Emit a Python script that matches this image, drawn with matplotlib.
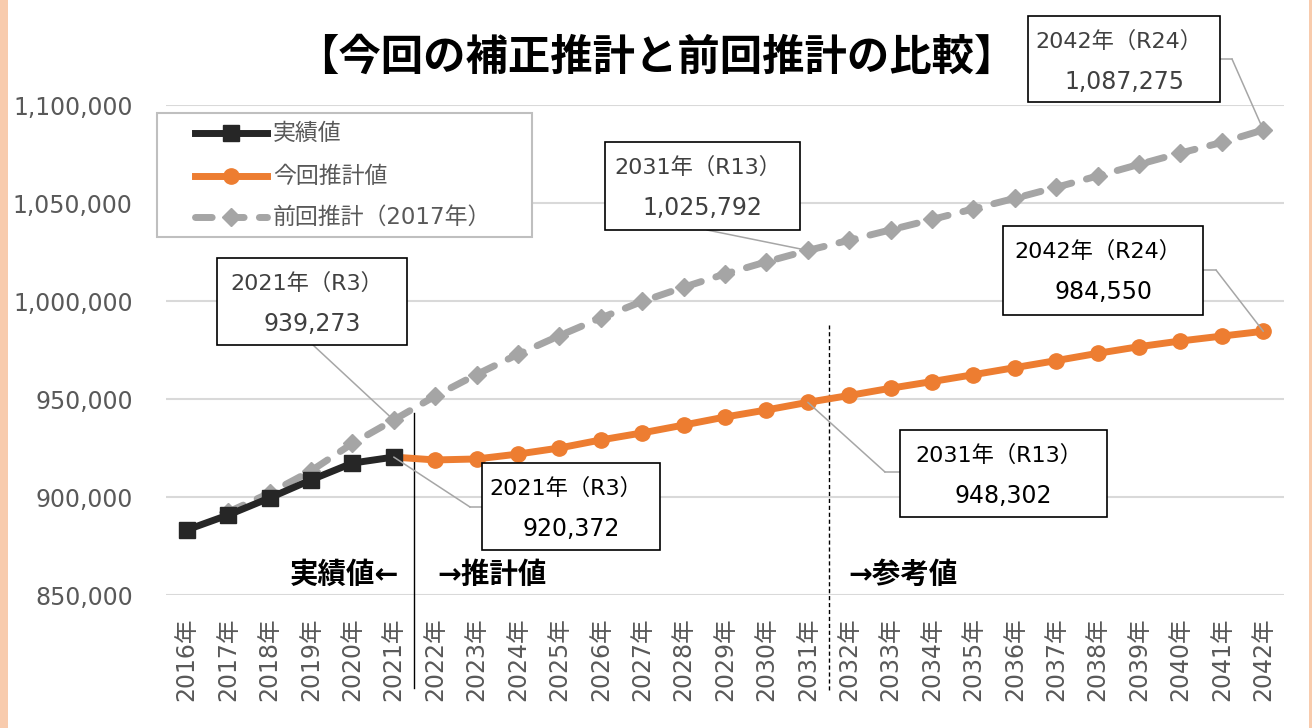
import matplotlib
matplotlib.use("Agg")
import matplotlib.pyplot as plt
from matplotlib.patches import Rectangle
from matplotlib.lines import Line2D
from matplotlib.transforms import blended_transform_factory

plt.rcParams['font.family'] = ['DejaVu Sans', 'Noto Sans CJK JP']

# ---- data ----
years = list(range(2016, 2043))
year_labels = [f"{y}年" for y in years]

actual_years = [2016, 2017, 2018, 2019, 2020, 2021]
actual = [883200, 890800, 899500, 908700, 917300, 920372]

current_years = list(range(2021, 2043))
current = [920372, 918900, 919400, 921900, 925000, 929100, 932700, 936700,
           940800, 944400, 948302, 951800, 955500, 958900, 962400, 966000,
           969600, 973300, 976700, 979600, 982100, 984550]

prev_years = list(range(2017, 2043))
previous = [892300, 902000, 913300, 927300, 939273, 951500, 962500, 972800,
            982300, 991300, 999800, 1007000, 1013800, 1020000, 1025792,
            1031000, 1036300, 1041600, 1047000, 1052400, 1058000, 1063800,
            1069700, 1075500, 1080900, 1087275]

series_names = ["実績値", "今回推計値", "前回推計（2017年）"]

W, H = 1312, 728
fig = plt.figure(figsize=(W / 100, H / 100), dpi=100)


def fxy(px, py):
    return px / W, 1 - py / H


ax = fig.add_axes([166 / W, 1 - 595 / H, (1284 - 166) / W, 490 / H])

pos = {y: i for i, y in enumerate(years)}

styles = [
    dict(color='#262626', lw=5, marker='s', ms=11),
    dict(color='#ed7d31', lw=5, marker='o', ms=11),
    dict(color='#a5a5a5', lw=5, marker='D', ms=9, dashes=(2.4, 2.2),
         dash_capstyle='round'),
]

ax.plot([pos[y] for y in actual_years], actual, zorder=4, **styles[0])
ax.plot([pos[y] for y in current_years], current, zorder=3, **styles[1])
ax.plot([pos[y] for y in prev_years], previous, zorder=2, **styles[2])

ax.set_xlim(-0.5, len(years) - 0.5)
ax.set_ylim(850000, 1100000)
ax.set_yticks(range(850000, 1100001, 50000))
ax.yaxis.set_major_formatter(matplotlib.ticker.FuncFormatter(lambda v, p: f"{int(v):,}"))
ax.set_xticks(range(len(years)))
ax.set_xticklabels(year_labels, rotation=90)
ax.tick_params(axis='y', length=0, pad=24, labelsize=17, labelcolor='#595959')
ax.tick_params(axis='x', length=0, pad=16, labelsize=17, labelcolor='#595959')
ax.grid(axis='y', color='#d9d9d9', lw=1.5)
ax.set_axisbelow(True)
for s in ax.spines.values():
    s.set_visible(False)

# divider lines
ax.axvline(5.5, ymin=-0.19, ymax=0.371, color='black', lw=1, clip_on=False)
ax.axvline(15.5, ymin=-0.194, ymax=0.551, color='black', lw=1,
           dashes=(3, 2), clip_on=False)

tr = blended_transform_factory(ax.transData, ax.transAxes)
ax.text(5.12, 0.041, "実績値←", transform=tr, ha='right', va='center',
        fontsize=20.5, weight='bold', color='black')
ax.text(6.06, 0.041, "→推計値", transform=tr, ha='left', va='center',
        fontsize=20.5, weight='bold', color='black')
ax.text(15.98, 0.041, "→参考値", transform=tr, ha='left', va='center',
        fontsize=20.5, weight='bold', color='black')

# title
fig.text(*fxy(656, 58), "【今回の補正推計と前回推計の比較】", ha='center',
         va='center', fontsize=30.5, weight='bold', color='black')

# legend box
lx, ly = fxy(157, 237)
fig.add_artist(Rectangle((lx, ly), 375 / W, 124 / H, transform=fig.transFigure,
                         facecolor='white', edgecolor='#bfbfbf', lw=1.5, zorder=2))
for name, st, row_y in zip(series_names, styles, [133, 176, 217]):
    hx0, hy = fxy(195, row_y)
    hx1, _ = fxy(267, row_y)
    line_st = {k: v for k, v in st.items() if k not in ('marker', 'ms')}
    fig.add_artist(Line2D([hx0, hx1], [hy, hy], transform=fig.transFigure,
                          zorder=3, **line_st))
    fig.add_artist(Line2D([(hx0 + hx1) / 2], [hy], transform=fig.transFigure,
                          color=st['color'], marker=st['marker'], ms=st['ms'],
                          lw=0, zorder=4))
    fig.text(*fxy(273, row_y), name, ha='left', va='center', fontsize=16.5,
             color='#595959', zorder=4)

# annotation boxes: (year, value, box pixels, elbow pixels, text color)
notes = [
    (2042, previous[-1], (1028, 16, 1220, 102), [(1220, 59), (1232, 59)], '#404040'),
    (2031, previous[prev_years.index(2031)], (605, 142, 800, 230), [(707, 230)], '#404040'),
    (2021, previous[prev_years.index(2021)], (217, 258, 407, 345), [(313, 345)], '#404040'),
    (2042, current[-1], (1003, 226, 1203, 315), [(1203, 270), (1216, 270)], 'black'),
    (2031, current[current_years.index(2031)], (900, 430, 1107, 517), [(900, 472), (885, 472)], 'black'),
    (2021, current[0], (482, 463, 660, 550), [(482, 507), (470, 507)], 'black'),
]
reiwa = {2021: "R3", 2031: "R13", 2042: "R24"}

for yr, val, (x0, y0, x1, y1), elbow, tc in notes:
    # leader
    if len(elbow) > 1:
        fx = [fxy(*p)[0] for p in elbow]
        fy = [fxy(*p)[1] for p in elbow]
        fig.add_artist(Line2D(fx, fy, transform=fig.transFigure,
                              color='#a6a6a6', lw=1.1, zorder=1))
    ax.annotate("", xy=(pos[yr], val), xycoords='data',
                xytext=fxy(*elbow[-1]), textcoords='figure fraction',
                arrowprops=dict(arrowstyle='-', color='#a6a6a6', lw=1.1,
                                shrinkA=0, shrinkB=0),
                annotation_clip=False, zorder=5)
    bx, by = fxy(x0, y1)
    fig.add_artist(Rectangle((bx, by), (x1 - x0) / W, (y1 - y0) / H,
                             transform=fig.transFigure, facecolor='white',
                             edgecolor='black', lw=1.2, zorder=2))
    cx = (x0 + x1) / 2
    fig.text(*fxy(cx - 5, y0 + 25), f"{yr}年（{reiwa[yr]}）", ha='center',
             va='center', fontsize=16, color=tc, zorder=3)
    fig.text(*fxy(cx, y0 + 66), f"{val:,}", ha='center', va='center',
             fontsize=17, color=tc, zorder=3)

# side strips
fig.add_artist(Rectangle((0, 0), 8 / W, 1, transform=fig.transFigure,
                         facecolor='#f8cbad', edgecolor='none'))
fig.add_artist(Rectangle((1 - 3 / W, 0), 3 / W, 1, transform=fig.transFigure,
                         facecolor='#f8cbad', edgecolor='none'))

fig.savefig("out.png", dpi=100)
